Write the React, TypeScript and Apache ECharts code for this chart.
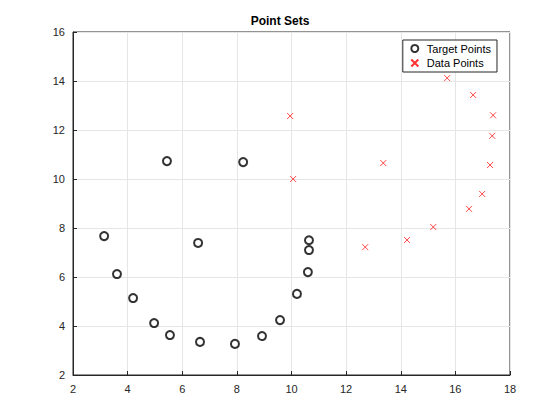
import { useEffect, useRef } from 'react';
import * as echarts from 'echarts';

const targetPoints: [number, number][] = [
  [3.14, 7.67], [3.61, 6.12], [4.2, 5.14], [4.97, 4.12], [5.55, 3.63],
  [6.65, 3.35], [7.93, 3.27], [8.92, 3.59], [9.58, 4.24], [10.2, 5.31],
  [10.6, 6.2], [10.64, 7.1], [10.64, 7.5], [6.58, 7.39], [5.44, 10.73], [8.23, 10.69],
];

const dataPoints: [number, number][] = [
  [9.95, 12.57], [10.06, 10.0], [12.7, 7.22], [14.23, 7.51], [15.19, 8.04],
  [13.36, 10.65], [15.7, 14.12], [16.65, 13.43], [17.38, 12.6], [17.35, 11.76],
  [17.27, 10.57], [16.98, 9.39], [16.5, 8.78],
];

const CROSS = 'path://M0,0L10,10M10,0L0,10';

export default function App() {
  const chartRef = useRef<HTMLDivElement>(null);

  useEffect(() => {
    if (!chartRef.current) return;
    const chart = echarts.init(chartRef.current, undefined, { renderer: 'svg' });
    const axisCommon = {
      type: 'value' as const,
      interval: 2,
      axisLine: { show: true, onZero: false, lineStyle: { color: '#262626' } },
      axisTick: { show: true, inside: true, length: 4, lineStyle: { color: '#262626' } },
      axisLabel: { color: '#262626', fontSize: 11 },
      splitLine: { show: true, lineStyle: { color: '#e6e6e6' } },
    };
    chart.setOption({
      animation: false,
      textStyle: { fontFamily: 'Liberation Sans, Arial, sans-serif' },
      title: {
        text: 'Point Sets', left: 'center', top: 2,
        textStyle: { fontSize: 12, fontWeight: 'bold', color: '#000' },
      },
      grid: { left: 65, right: 42, top: 24, bottom: 37, show: true, borderColor: '#262626', borderWidth: 1 },
      legend: {
        orient: 'vertical', right: 55, top: 32,
        borderColor: '#262626', borderWidth: 1, backgroundColor: '#fff',
        padding: [3, 6], itemGap: 3, itemWidth: 14, itemHeight: 7,
        textStyle: { fontSize: 11, color: '#000' },
        data: ['Target Points', 'Data Points'],
      },
      xAxis: { ...axisCommon, min: 2, max: 18 },
      yAxis: { ...axisCommon, min: 2, max: 16 },
      series: [
        {
          name: 'Target Points', type: 'scatter', symbol: 'emptyCircle', symbolSize: 8,
          itemStyle: { color: '#000', borderColor: '#000', borderWidth: 0.8 },
          data: targetPoints,
        },
        {
          name: 'Data Points', type: 'scatter', symbol: CROSS, symbolSize: 6,
          itemStyle: { color: 'none', borderColor: '#ff0000', borderWidth: 0.9 },
          data: dataPoints,
        },
      ],
    });
    return () => chart.dispose();
  }, []);

  return <div ref={chartRef} style={{ width: 544, height: 404, background: '#fff' }} />;
}
